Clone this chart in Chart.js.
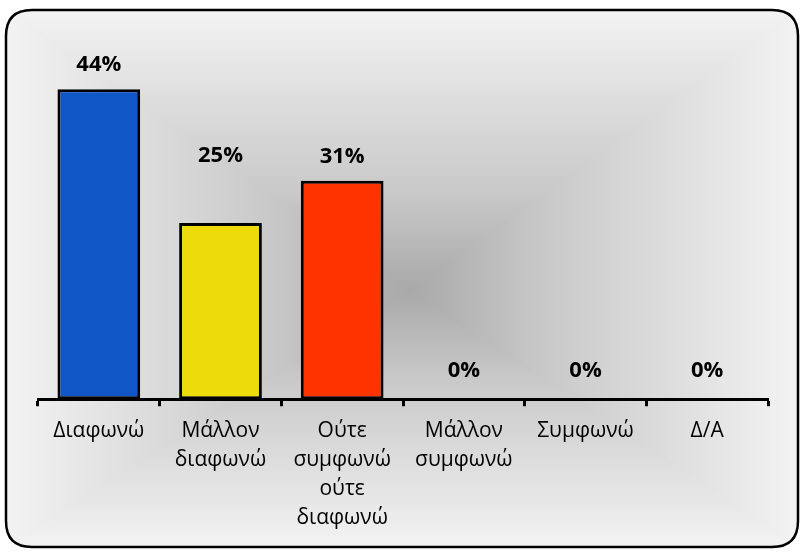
<!DOCTYPE html>
<html><head><meta charset="utf-8">
<script src="https://cdn.jsdelivr.net/npm/chart.js@4"></script>
<style>html,body{margin:0;padding:0;background:#fff}#wrap{width:803px;height:552px}</style>
</head><body><div id="wrap"><canvas id="c" width="803" height="552"></canvas></div>
<script>
const categories = ["Διαφωνώ", ["Μάλλον","διαφωνώ"], ["Ούτε","συμφωνώ","ούτε","διαφωνώ"], ["Μάλλον","συμφωνώ"], "Συμφωνώ", "Δ/Α"];
const values = [44, 25, 31, 0, 0, 0];
const valueLabels = ["44%", "25%", "31%", "0%", "0%", "0%"];
const barColors = ["#1156C6", "#EDDC0A", "#FF3300", "#888888", "#888888", "#888888"];
const labelLift = [25, 67, 24, 29, 29, 29];

function rr(ctx,x,y,w,h,r){ctx.beginPath();ctx.moveTo(x+r,y);ctx.lineTo(x+w-r,y);ctx.quadraticCurveTo(x+w,y,x+w,y+r);ctx.lineTo(x+w,y+h-r);ctx.quadraticCurveTo(x+w,y+h,x+w-r,y+h);ctx.lineTo(x+r,y+h);ctx.quadraticCurveTo(x,y+h,x,y+h-r);ctx.lineTo(x,y+r);ctx.quadraticCurveTo(x,y,x+r,y);ctx.closePath();}

const bgPlugin = {
  id:'bg',
  beforeDraw(chart){
    const ctx=chart.ctx; const X=6,Y=10,W=792,H=537,R=26;
    const cx=410, cy=290;
    ctx.save();
    rr(ctx,X,Y,W,H,R); ctx.clip();
    const tris=[
      [[X-2,Y],[X+W+2,Y],[cx,Y]],
      [[X+W,Y-2],[X+W,Y+H+2],[X+W,cy]],
      [[X+W+2,Y+H],[X-2,Y+H],[cx,Y+H]],
      [[X,Y+H+2],[X,Y-2],[X,cy]]
    ];
    for(const t of tris){
      ctx.beginPath();ctx.moveTo(t[0][0],t[0][1]);ctx.lineTo(t[1][0],t[1][1]);ctx.lineTo(cx,cy);ctx.closePath();
      const g=ctx.createLinearGradient(t[2][0],t[2][1],cx,cy);
      g.addColorStop(0,'#f3f3f3');g.addColorStop(0.35,'#dcdcdc');g.addColorStop(0.65,'#c9c9c9');g.addColorStop(1,'#a9a9a9');
      ctx.fillStyle=g;ctx.fill();ctx.strokeStyle=g;ctx.lineWidth=1.5;ctx.stroke();
    }
    ctx.restore();
    ctx.save();
    rr(ctx,X,Y,W,H,R);ctx.lineWidth=2.5;ctx.strokeStyle='#000';ctx.stroke();
    ctx.restore();
  }
};
const lblPlugin = {
  id:'lbl',
  afterDatasetsDraw(chart){
    const ctx=chart.ctx; const meta=chart.getDatasetMeta(0);
    ctx.save();ctx.font='bold 22px "Open Sans", sans-serif';ctx.fillStyle='#000';ctx.textAlign='center';ctx.textBaseline='middle';
    meta.data.forEach((b,i)=>{ctx.fillText(valueLabels[i], b.x, b.y-labelLift[i]);});
    ctx.restore();
  }
};

new Chart(document.getElementById('c'),{
  type:'bar',
  data:{labels:categories,datasets:[{data:values,backgroundColor:barColors,borderColor:'#000',borderWidth:3,borderSkipped:false,barPercentage:0.68,categoryPercentage:1}]},
  options:{
    responsive:false,animation:false,
    layout:{padding:{left:38,right:35,top:47,bottom:9}},
    plugins:{legend:{display:false},tooltip:{enabled:false}},
    scales:{
      y:{display:false,min:0,max:50},
      x:{
        border:{display:true,color:'#000',width:3},
        grid:{display:true,drawOnChartArea:false,drawTicks:true,tickLength:7,tickWidth:3,tickColor:'#000',offset:true},
        ticks:{color:'#000',font:{family:'"Open Sans", sans-serif',size:21,lineHeight:1.39},maxRotation:0,autoSkip:false,padding:10}
      }
    }
  },
  plugins:[bgPlugin,lblPlugin]
});
</script></body></html>
